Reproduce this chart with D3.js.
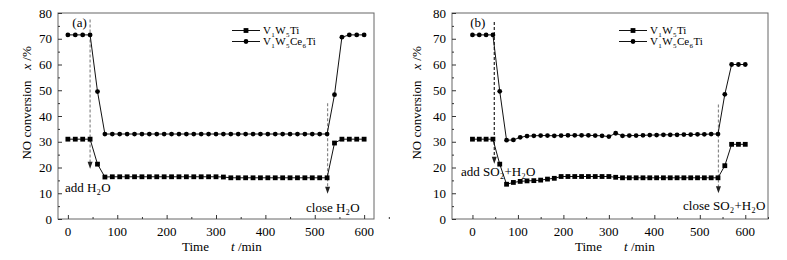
<!DOCTYPE html>
<html>
<head>
<meta charset="utf-8">
<script src="https://cdn.jsdelivr.net/npm/d3@7"></script>
<style>
  body { margin: 0; background: #fff; }
  svg { display: block; font-family: "Liberation Serif", "Times New Roman", serif; }
</style>
</head>
<body>
<div id="chart"></div>
<script>
// time axis, minutes (every 15 min)
const times = d3.range(0, 601, 15);

// panel (a): H2O only
const a_V1W5Ti = [31, 31, 31, 31, 21.3, 16.3, 16.4, 16.4, 16.4, 16.4, 16.4, 16.4, 16.4, 16.4, 16.4, 16.4, 16.4, 16.4, 16.4, 16.4, 16.4, 16.3, 16, 16, 16, 16, 16, 16, 16, 16, 16, 16, 16, 16, 16, 16, 29.5, 31, 31, 31, 31];
const a_V1W5Ce6Ti = [71.5, 71.5, 71.5, 71.5, 49.5, 33, 33, 33, 33, 33, 33, 33, 33, 33, 33, 33, 33, 33, 33, 33, 33, 33, 33, 33, 33, 33, 33, 33, 33, 33, 33, 33, 33, 33, 33, 33, 48.3, 70.6, 71.5, 71.5, 71.5];

// panel (b): SO2 + H2O
const b_V1W5Ti = [31, 31, 31, 31, 21.3, 13.5, 14.2, 14.6, 14.8, 14.9, 15.1, 15.5, 15.8, 16.5, 16.5, 16.5, 16.5, 16.5, 16.5, 16.5, 16.5, 16.2, 16, 16, 16, 16, 16, 16, 16, 16, 16, 16, 16, 16, 16, 16, 16, 20.7, 29, 29, 29];
const b_V1W5Ce6Ti = [71.5, 71.5, 71.5, 71.5, 49.6, 30.6, 30.7, 31.7, 32.2, 32.3, 32.4, 32.4, 32.3, 32.4, 32.5, 32.5, 32.5, 32.5, 32.4, 32.3, 32, 33.3, 32.3, 32.4, 32.4, 32.5, 32.6, 32.6, 32.7, 32.7, 32.7, 32.8, 32.8, 32.9, 32.9, 33, 33, 48.4, 60, 60, 60];

const yTicks = [0, 10, 20, 30, 40, 50, 60, 70, 80];
const xTicks = [0, 100, 200, 300, 400, 500, 600];

// annotation arrows: [time, top value, tip value]
const a_arrows = [[45, 77.5, 19.5], [526, 45, 9.8]];
const b_arrows = [[48, 76.5, 21.5], [541, 44.5, 10]];

const W = 787, H = 260;
const svg = d3.select("#chart").append("svg")
    .attr("width", W)
    .attr("height", H);

// writes text with subscripts as separate pieces, side by side
// parts: [text, isSub]
function subText(g, x0, y0, parts, size, subSize) {
    let cx = x0;
    parts.forEach(function(p) {
        let t = g.append("text")
            .attr("x", cx)
            .attr("y", p[1] ? y0 + 2.5 : y0)
            .attr("font-size", p[1] ? subSize : size)
            .text(p[0]);
        cx += t.node().getComputedTextLength() + 0.4;
    });
}

function drawPanel(cfg) {
    let g = svg.append("g");

    let x = d3.scaleLinear().domain(cfg.xDomain).range([cfg.left, cfg.right]);
    let y = d3.scaleLinear().domain([0, 80]).range([219, 13]);

    // frame
    g.append("rect")
        .attr("x", cfg.left).attr("y", 13)
        .attr("width", cfg.right - cfg.left).attr("height", 206)
        .attr("fill", "none").attr("stroke", "#666").attr("stroke-width", 1);

    // y axis (inward ticks)
    g.append("g")
        .attr("transform", "translate(" + cfg.left + ",0)")
        .call(d3.axisRight(y).tickValues(yTicks).tickSize(4).tickFormat(""))
        .call(s => s.select(".domain").remove())
        .selectAll("line").attr("stroke", "#333");
    g.append("g")
        .attr("transform", "translate(" + cfg.left + ",0)")
        .call(d3.axisRight(y).tickValues(d3.range(5, 80, 10)).tickSize(2).tickFormat(""))
        .call(s => s.select(".domain").remove())
        .selectAll("line").attr("stroke", "#333");
    g.selectAll(".ylab").data(yTicks).enter().append("text")
        .attr("x", cfg.left - 6)
        .attr("y", d => y(d) + 4.5)
        .attr("text-anchor", "end")
        .attr("font-size", 13)
        .text(d => d);

    // x axis (inward ticks)
    g.append("g")
        .attr("transform", "translate(0,219)")
        .call(d3.axisTop(x).tickValues(xTicks).tickSize(4).tickFormat(""))
        .call(s => s.select(".domain").remove())
        .selectAll("line").attr("stroke", "#333");
    g.append("g")
        .attr("transform", "translate(0,219)")
        .call(d3.axisTop(x).tickValues(d3.range(cfg.minorStart, 651, 100)).tickSize(2).tickFormat(""))
        .call(s => s.select(".domain").remove())
        .selectAll("line").attr("stroke", "#333");
    g.selectAll(".xlab").data(xTicks).enter().append("text")
        .attr("x", d => x(d))
        .attr("y", 236)
        .attr("text-anchor", "middle")
        .attr("font-size", 13)
        .text(d => d);

    // axis titles
    g.append("text")
        .attr("transform", "translate(" + (cfg.titleX + 4) + ",120) rotate(-90)")
        .attr("text-anchor", "middle")
        .attr("font-size", 13)
        .text("NO conversion");
    let yt = g.append("text")
        .attr("transform", "translate(" + (cfg.titleX + 4) + ",58) rotate(-90)")
        .attr("text-anchor", "middle")
        .attr("font-size", 13);
    yt.append("tspan").attr("font-style", "italic").text("x");
    yt.append("tspan").text(" /%");

    g.append("text")
        .attr("x", cfg.timeX).attr("y", 251)
        .attr("font-size", 13)
        .text("Time");
    let xt = g.append("text")
        .attr("x", cfg.timeX + 49).attr("y", 251)
        .attr("font-size", 13);
    xt.append("tspan").attr("font-style", "italic").text("t");
    xt.append("tspan").text(" /min");

    // panel tag
    g.append("text")
        .attr("x", x(cfg.tagT)).attr("y", 27)
        .attr("font-size", 13)
        .text(cfg.tag);

    // dashed arrows
    cfg.arrows.forEach(function(a, i) {
        let col = cfg.arrowColors[i];
        g.append("line")
            .attr("x1", x(a[0])).attr("x2", x(a[0]))
            .attr("y1", y(a[1])).attr("y2", y(a[2]) - 5)
            .attr("stroke", col).attr("stroke-width", 1.2)
            .attr("stroke-dasharray", "3,2");
        let tx = x(a[0]), ty = y(a[2]);
        g.append("path")
            .attr("d", "M" + (tx - 2.5) + "," + (ty - 7) + "L" + (tx + 2.5) + "," + (ty - 7) + "L" + tx + "," + ty + "Z")
            .attr("fill", "#222");
    });

    // series
    let line = d3.line().x((d, i) => x(times[i])).y(d => y(d));
    [cfg.s1, cfg.s2].forEach(function(s) {
        g.append("path")
            .datum(s)
            .attr("d", line)
            .attr("fill", "none")
            .attr("stroke", "#111")
            .attr("stroke-width", 1);
    });
    g.selectAll(".sq").data(cfg.s1).enter().append("rect")
        .attr("x", (d, i) => x(times[i]) - 2.4)
        .attr("y", d => y(d) - 2.4)
        .attr("width", 4.8).attr("height", 4.8)
        .attr("fill", "#000");
    g.selectAll(".ci").data(cfg.s2).enter().append("circle")
        .attr("cx", (d, i) => x(times[i]))
        .attr("cy", d => y(d))
        .attr("r", 2.4)
        .attr("fill", "#000");

    // legend
    let lx = cfg.legendX;
    [30.5, 41.5].forEach(function(ly, i) {
        g.append("line")
            .attr("x1", lx).attr("x2", lx + 28)
            .attr("y1", ly).attr("y2", ly)
            .attr("stroke", "#111");
        if (i == 0) {
            g.append("rect").attr("x", lx + 14 - 2.4).attr("y", ly - 2.4)
                .attr("width", 4.8).attr("height", 4.8).attr("fill", "#000");
            subText(g, lx + 31, ly + 3.5, [["V", 0], ["1", 1], ["W", 0], ["5", 1], ["Ti", 0]], 11, 7);
        } else {
            g.append("circle").attr("cx", lx + 14).attr("cy", ly).attr("r", 2.4).attr("fill", "#000");
            subText(g, lx + 31, ly + 3.5, [["V", 0], ["1", 1], ["W", 0], ["5", 1], ["Ce", 0], ["6", 1], ["Ti", 0]], 11, 7);
        }
    });

    // annotation labels
    cfg.labels.forEach(function(l) {
        subText(g, l.x, l.y, l.parts, 13, 8);
    });
}

drawPanel({
    left: 58, right: 374, xDomain: [-20, 620], minorStart: 50,
    titleX: 27, timeX: 182, tag: "(a)", tagT: 9,
    s1: a_V1W5Ti, s2: a_V1W5Ce6Ti,
    arrows: a_arrows, arrowColors: ["#888", "#888"],
    legendX: 232,
    labels: [
        {x: 65, y: 192, parts: [["add H", 0], ["2", 1], ["O", 0]]},
        {x: 306, y: 212, parts: [["close H", 0], ["2", 1], ["O", 0]]}
    ]
});

drawPanel({
    left: 452, right: 768, xDomain: [-45, 650], minorStart: 50,
    titleX: 417, timeX: 575, tag: "(b)", tagT: -5,
    s1: b_V1W5Ti, s2: b_V1W5Ce6Ti,
    arrows: b_arrows, arrowColors: ["#222", "#888"],
    legendX: 619,
    labels: [
        {x: 461, y: 176, parts: [["add SO", 0], ["2", 1], ["+H", 0], ["2", 1], ["O", 0]]},
        {x: 683, y: 210, parts: [["close SO", 0], ["2", 1], ["+H", 0], ["2", 1], ["O", 0]]}
    ]
});
</script>
</body>
</html>
